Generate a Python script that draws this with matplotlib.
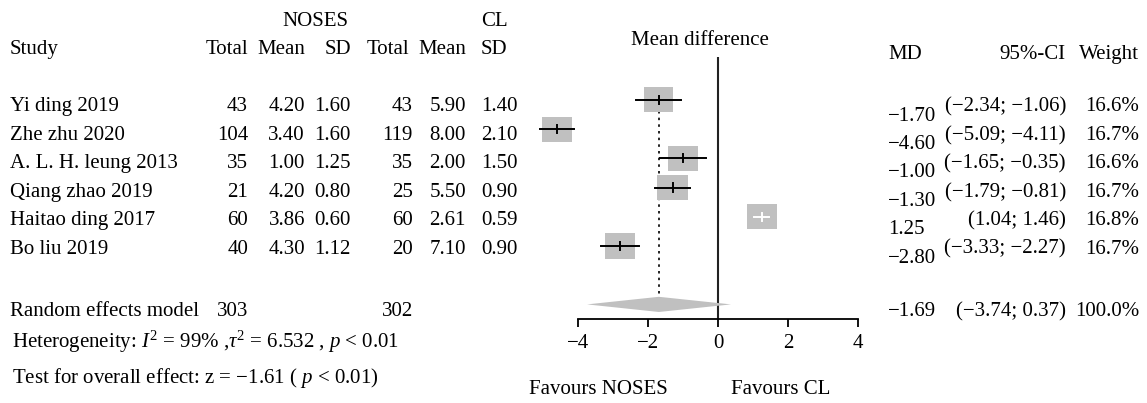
import matplotlib
matplotlib.use("Agg")
import matplotlib.pyplot as plt
import matplotlib.transforms as mtransforms
from matplotlib.patches import Rectangle, Polygon

plt.rcParams["font.family"] = ["Liberation Serif", "DejaVu Serif"]
plt.rcParams["mathtext.fontset"] = "custom"
plt.rcParams["mathtext.rm"] = "Liberation Serif"
plt.rcParams["mathtext.it"] = "Liberation Serif:italic"
plt.rcParams["axes.unicode_minus"] = True

# study level data
studies = ["Yi ding 2019", "Zhe zhu 2020", "A. L. H. leung 2013",
           "Qiang zhao 2019", "Haitao ding 2017", "Bo liu 2019"]
n_noses = [43, 104, 35, 21, 60, 40]
mean_noses = [4.20, 3.40, 1.00, 4.20, 3.86, 4.30]
sd_noses = [1.60, 1.60, 1.25, 0.80, 0.60, 1.12]
n_cl = [43, 119, 35, 25, 60, 20]
mean_cl = [5.90, 8.00, 2.00, 5.50, 2.61, 7.10]
sd_cl = [1.40, 2.10, 1.50, 0.90, 0.59, 0.90]
md = [-1.70, -4.60, -1.00, -1.30, 1.25, -2.80]
ci_low = [-2.34, -5.09, -1.65, -1.79, 1.04, -3.33]
ci_high = [-1.06, -4.11, -0.35, -0.81, 1.46, -2.27]
weight = [16.6, 16.7, 16.6, 16.7, 16.8, 16.7]

# random effects summary
pooled_md = -1.69
pooled_low = -3.74
pooled_high = 0.37
pooled_weight = 100.0
x_ticks = [-4, -2, 0, 2, 4]

W, H = 1147, 403
FS = 15
GRAY = "#c0c0c0"


def fmt(v, nd=2):
    return f"{v:.{nd}f}".replace("-", "\u2212")


fig = plt.figure(figsize=(W / 100, H / 100), dpi=100)
# forest panel, rows are study indices (0 at top), summary at row 7
ax = fig.add_axes([578 / W, 1 - 319 / H, (858 - 578) / W, (319 - 57) / H])
ax.set_xlim(-4, 4)
ax.set_ylim(7.5, -1.47)
for side in ("top", "right", "left"):
    ax.spines[side].set_visible(False)
ax.spines["bottom"].set_linewidth(1.3)
ax.set_yticks([])
ax.set_xticks(x_ticks)
ax.set_xticklabels([fmt(t, 0) for t in x_ticks], fontsize=FS)
ax.tick_params(axis="x", direction="out", length=6, width=1.3, pad=5)

summary_row = len(studies) + 1
ax.plot([0, 0], [-1.47, 7.5], color="#222222", lw=1.5, zorder=1)
ax.plot([pooled_md, pooled_md], [-0.3, summary_row], color="black",
        lw=1.2, ls=(0, (1.5, 2.5)), zorder=1)

max_w = max(weight)
for i in range(len(studies)):
    side = 0.86 * (weight[i] / max_w) ** 0.5
    ax.add_patch(Rectangle((md[i] - side / 2, i - side / 2), side, side,
                           facecolor=GRAY, edgecolor="none", zorder=2,
                           clip_on=False))
    inside = ci_low[i] > md[i] - side / 2 and ci_high[i] < md[i] + side / 2
    col = "white" if inside else "black"
    ax.plot([ci_low[i], ci_high[i]], [i, i], color=col, lw=1.4, zorder=3,
            clip_on=False)
    ax.plot([md[i], md[i]], [i - 0.14, i + 0.14], color=col, lw=1.4,
            zorder=3, clip_on=False)

dh = 0.26
ax.add_patch(Polygon([(pooled_low, summary_row), (pooled_md, summary_row - dh),
                      (pooled_high, summary_row), (pooled_md, summary_row + dh)],
                     closed=True, facecolor=GRAY, edgecolor="none", zorder=2))

# text columns: x in figure fraction, y in forest row units
tr = mtransforms.blended_transform_factory(fig.transFigure, ax.transData)


def put(px, row, s, ha="left"):
    fig.text(px / W, row, s, transform=tr, ha=ha, va="center", fontsize=FS)


# headers
put(315, -2.67, "NOSES", "center")
put(481, -2.67, "CL")
put(10, -1.71, "Study")
put(248, -1.71, "Total", "right")
put(305, -1.71, "Mean", "right")
put(351, -1.71, "SD", "right")
put(409, -1.71, "Total", "right")
put(466, -1.71, "Mean", "right")
put(481, -1.71, "SD")
put(700, -2.05, "Mean difference", "center")
put(888, -1.54, "MD")
put(1066, -1.54, "95%-CI", "right")
put(1139, -1.54, "Weight", "right")

# table rows sit on a slightly tighter pitch than the forest rows
pitch = 0.975
for i, name in enumerate(studies):
    r = 0.24 + i * pitch
    put(10, r, name)
    put(248, r, str(n_noses[i]), "right")
    put(305, r, fmt(mean_noses[i]), "right")
    put(351, r, fmt(sd_noses[i]), "right")
    put(413, r, str(n_cl[i]), "right")
    put(466, r, fmt(mean_cl[i]), "right")
    put(481, r, fmt(sd_cl[i]))
    put(888, 0.55 + i * pitch, fmt(md[i]))
    put(1066, r, f"({fmt(ci_low[i])}; {fmt(ci_high[i])})", "right")
    put(1139, r, f"{weight[i]:.1f}%", "right")

rs = summary_row + 0.24
put(10, rs, "Random effects model")
put(248, rs, str(sum(n_noses)), "right")
put(413, rs, str(sum(n_cl)), "right")
put(888, rs, fmt(pooled_md))
put(1066, rs, f"({fmt(pooled_low)}; {fmt(pooled_high)})", "right")
put(1139, rs, f"{pooled_weight:.1f}%", "right")

put(12, 8.29, "Heterogeneity: $I^2$ = 99% ,$\\tau^2$ = 6.532 , $p$ < 0.01")
put(12, 9.52, "Test for overall effect: z = \u22121.61 ( $p$ < 0.01)")
put(598, 9.93, "Favours NOSES", "center")
put(781, 9.93, "Favours CL", "center")

fig.savefig("out.png", dpi=100, facecolor="white")
